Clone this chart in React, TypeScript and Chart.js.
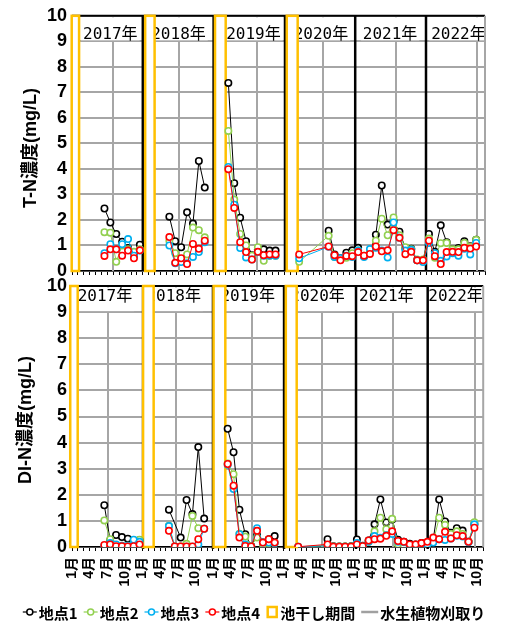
import React, { useEffect, useRef } from 'react';
import { Chart, registerables } from 'chart.js';

Chart.register(...registerables);
Chart.defaults.font.family = '"Liberation Sans", "Noto Sans CJK JP", sans-serif';
Chart.defaults.color = '#000';

// ---------- DATA ----------
// sampling months (points plotted mid-month); the "break" months carry null in every series
const sampleMonths = [
  '2017-06', '2017-07', '2017-08', '2017-09', '2017-10', '2017-11', '2017-12',
  '2018-02',
  '2018-05', '2018-06', '2018-07', '2018-08', '2018-09', '2018-10', '2018-11',
  '2019-02',
  '2019-03', '2019-04', '2019-05', '2019-06', '2019-07', '2019-08', '2019-09', '2019-10', '2019-11',
  '2020-02',
  '2020-03', '2020-08', '2020-09', '2020-10', '2020-11', '2020-12',
  '2021-01', '2021-02', '2021-03', '2021-04', '2021-05', '2021-06', '2021-07', '2021-08', '2021-09', '2021-10', '2021-11', '2021-12',
  '2022-01', '2022-02', '2022-03', '2022-04', '2022-05', '2022-06', '2022-07', '2022-08', '2022-09',
];

const _ = undefined; // not sampled (line continues)

const tnSite1 = [2.45, 1.9, 1.45, 1.15, 0.9, 0.6, 1.03, null, 2.13, 1.17, 0.93, 2.3, 1.86, 4.31, 3.27, null, 7.37, 3.44, 2.09, 1.17, 0.62, 0.85, 0.85, 0.8, 0.8, null, null, 1.58, 0.65, 0.5, 0.72, 0.81, 0.91, 0.58, 0.75, 1.42, 3.35, 1.82, 1.95, 1.54, 0.9, 0.87, 0.42, 0.42, 1.45, 0.75, 1.79, 1.13, 0.85, 0.9, 1.17, 0.97, 1.22];
const tnSite2 = [1.52, 1.5, 0.36, 1.0, 0.85, 0.75, 0.85, null, 1.19, 0.7, 0.45, 0.65, 1.7, 1.6, 1.32, null, 5.49, 2.8, 1.45, 1.0, 0.6, 0.93, 0.4, 0.6, 0.6, null, 0.36, 1.38, 0.55, 0.45, 0.52, 0.7, 0.8, 0.6, 0.8, 1.19, 2.05, 1.4, 2.1, 1.4, 0.93, 0.85, 0.45, 0.45, 1.27, 0.52, 1.09, 1.1, 0.85, 0.85, 1.1, 0.95, 1.22];
const tnSite3 = [0.7, 1.05, 0.85, 1.05, 1.25, 0.6, 0.8, null, 1.0, 0.3, 0.35, 0.3, 0.55, 0.74, 1.13, null, 4.08, 2.6, 0.9, 0.53, 0.45, 0.74, 0.6, 0.6, 0.6, null, 0.5, 0.95, 0.55, 0.5, 0.6, 0.55, 0.8, 0.55, 0.86, 0.91, 0.8, 0.53, 1.9, 1.3, 0.8, 0.83, 0.42, 0.35, 1.1, 0.7, 0.4, 0.57, 0.7, 0.6, 0.87, 0.65, 1.1];
const tnSite4 = [0.59, 0.85, 0.85, 0.6, 0.8, 0.5, 0.81, null, 1.33, 0.32, 0.5, 0.27, 1.06, 0.87, 1.19, null, 3.99, 2.47, 1.13, 0.74, 0.45, 0.75, 0.62, 0.65, 0.65, null, 0.65, 0.96, 0.62, 0.42, 0.59, 0.58, 0.74, 0.6, 0.67, 0.96, 0.77, 0.81, 1.6, 1.3, 0.66, 0.75, 0.42, 0.42, 1.19, 0.58, 0.27, 0.74, 0.75, 0.74, 0.91, 0.88, 0.96];

const dinSite1 = [1.6, 0.25, 0.46, 0.38, 0.32, 0.25, 0.26, null, 1.43, _, 0.36, 1.8, 1.26, 3.83, 1.09, null, 4.53, 3.63, 1.43, 0.49, 0.04, 0.45, 0.17, 0.3, 0.42, null, null, 0.3, 0.03, 0.02, 0.02, 0.03, 0.29, 0.05, 0.25, 0.87, 1.82, 0.94, 1.05, 0.28, 0.2, 0.12, 0.1, 0.15, 0.15, 0.3, 1.82, 0.98, 0.55, 0.72, 0.63, 0.2, 0.87];
const dinSite2 = [1.02, 0.3, 0.05, 0.05, 0.05, 0.1, 0.28, null, 0.81, 0.02, 0.02, 0.12, 1.19, 0.72, 0.7, null, 3.2, 2.79, 0.51, 0.4, 0.04, 0.36, 0.1, 0.15, 0.15, null, 0.01, 0.05, 0.02, 0.02, 0.02, 0.02, 0.1, 0.02, 0.2, 0.6, 1.12, 0.68, 1.08, 0.1, 0.05, 0.02, 0.05, 0.1, 0.1, 0.2, 1.12, 0.85, 0.5, 0.6, 0.5, 0.2, 0.95];
const dinSite3 = [0.05, 0.15, 0.1, 0.05, 0.05, 0.28, 0.2, null, 0.8, 0.02, 0.01, 0.01, 0.01, 0.1, 0.7, null, 3.15, 2.22, 0.49, 0.1, 0.02, 0.72, 0.17, 0.17, 0.15, null, 0.01, 0.05, 0.01, 0.01, 0.01, 0.01, 0.15, 0.02, 0.2, 0.42, 0.35, 0.45, 0.5, 0.2, 0.18, 0.05, 0.08, 0.12, 0.1, 0.17, 0.3, 0.27, 0.33, 0.43, 0.4, 0.18, 0.87];
const dinSite4 = [0.08, 0.1, 0.03, 0.03, 0.02, 0.03, 0.1, null, 0.62, 0.02, 0.02, 0.02, 0.02, 0.3, 0.7, null, 3.18, 2.35, 0.36, 0.04, 0.02, 0.62, 0.17, 0.3, 0.17, null, 0.01, 0.1, 0.01, 0.01, 0.01, 0.01, 0.1, 0.03, 0.25, 0.3, 0.32, 0.43, 0.6, 0.23, 0.2, 0.1, 0.1, 0.15, 0.2, 0.36, 0.3, 0.58, 0.33, 0.45, 0.42, 0.2, 0.74];

const siteNames = ['地点1', '地点2', '地点3', '地点4'];
const siteColors = ['#000000', '#92D050', '#00B0F0', '#FF0000'];

const monthTickLabels = ['1月', '4月', '7月', '10月'];
const yearLabels = ['2017年', '2018年', '2019年', '2020年', '2021年', '2022年'];

// annotation positions, in months from 2017-01-01
const topYearLabelAt = [6.5, 18.05, 30.76, 42.2, 53.9, 65.5];
const bottomYearLabelAt = [5.6, 17.3, 29.9, 41.8, 53.5, 65.3];
const topDryPeriods = [[-0.05, 1.2], [12.4, 14.0], [24.24, 26.05], [36.4, 38.25]];
const bottomDryPeriods = [[-0.3, 0.97], [12.1, 13.9], [24.1, 26.1], [36.4, 38.25]];
const topYearLines = [12, 24, 36.1, 48, 60];
const bottomYearLines = [12.1, 24, 36.1, 48.35, 60.55];
const topHarvest = [6.95, 18.2, 31.4, 42.6, 54.9, 68.6];
const bottomHarvest = [6.15, 17.7, 30.7, 42.6, 54.7, 68.6];

const legendLabels = ['地点1', '地点2', '地点3', '地点4', '池干し期間', '水生植物刈取り'];

// ---------- STYLE ----------
const GRID = '#A6A6A6';
const HARVEST = '#A6A6A6';
const YELLOW = '#FFC000';
const CJK = '"Noto Sans CJK JP"';

function monthIndex(s: string) {
  const [y, m] = s.split('-').map(Number);
  return (y - 2017) * 12 + (m - 1) + 0.5;
}

function toPoints(values: (number | null | undefined)[]) {
  const pts: { x: number; y: number | null }[] = [];
  sampleMonths.forEach((d, i) => {
    const v = values[i];
    if (v === undefined) return;
    pts.push({ x: monthIndex(d), y: v });
  });
  return pts;
}

const decorPlugin = {
  id: 'panelDecor',
  beforeDatasetsDraw(chart: any, _args: any, o: any) {
    const { ctx, chartArea: a } = chart;
    const xs = chart.scales.x;
    const ys = chart.scales.y;
    const px = (m: number) => xs.getPixelForValue(m);
    ctx.save();
    // harvest lines
    ctx.strokeStyle = HARVEST;
    ctx.lineWidth = 2;
    for (const m of o.harvest) {
      const X = Math.round(px(m));
      ctx.beginPath();
      ctx.moveTo(X, a.top);
      ctx.lineTo(X, a.bottom);
      ctx.stroke();
    }
    // year labels with white boxes
    ctx.save();
    ctx.beginPath();
    ctx.rect(a.left, a.top, a.right - a.left, a.bottom - a.top);
    ctx.clip();
    ctx.font = '16px "DejaVu Sans Mono", ' + CJK;
    ctx.textAlign = 'center';
    ctx.textBaseline = 'middle';
    const y9 = ys.getPixelForValue(9);
    o.yearAt.forEach((m: number, i: number) => {
      const w = ctx.measureText(yearLabels[i]).width;
      const cx = px(m);
      ctx.fillStyle = '#fff';
      ctx.fillRect(cx - w / 2 - 2, a.top + 1.5, w + 4, y9 - a.top - 2.5);
      ctx.fillStyle = '#000';
      ctx.fillText(yearLabels[i], cx, a.top + o.labelDy);
    });
    ctx.restore();
    // year separator lines
    ctx.strokeStyle = '#000';
    ctx.lineWidth = 2.5;
    for (const m of o.yearLines) {
      const X = px(m);
      ctx.beginPath();
      ctx.moveTo(X, a.top);
      ctx.lineTo(X, a.bottom + o.lineExt);
      ctx.stroke();
    }
    // top border
    ctx.lineWidth = 2;
    ctx.beginPath();
    ctx.moveTo(a.left, a.top);
    ctx.lineTo(a.right, a.top);
    ctx.stroke();
    // right border
    ctx.strokeStyle = GRID;
    ctx.beginPath();
    ctx.moveTo(a.right, a.top);
    ctx.lineTo(a.right, a.bottom);
    ctx.stroke();
    // drying periods
    ctx.strokeStyle = YELLOW;
    ctx.fillStyle = '#fff';
    ctx.lineWidth = 2.5;
    for (const [m0, m1] of o.dry) {
      const x0 = px(m0);
      const x1 = px(m1);
      ctx.fillRect(x0, a.top, x1 - x0, a.bottom - a.top);
      ctx.strokeRect(x0, a.top, x1 - x0, a.bottom - a.top);
    }
    ctx.restore();
  },
  afterDraw(chart: any, _args: any, o: any) {
    const { ctx } = chart;
    ctx.save();
    // axis title
    ctx.font = 'bold 18px "Liberation Sans", ' + CJK;
    ctx.fillStyle = '#000';
    ctx.textAlign = 'center';
    ctx.textBaseline = 'middle';
    ctx.translate(o.titleX, o.titleY);
    ctx.rotate(-Math.PI / 2);
    ctx.fillText(o.title, 0, 0);
    ctx.restore();
    if (!o.legend) return;
    ctx.save();
    ctx.font = 'bold 15px ' + CJK;
    ctx.textBaseline = 'middle';
    ctx.textAlign = 'left';
    const symW = [14, 14, 14, 14, 12, 17];
    const gapSym = 2;
    const gapItem = 6;
    const widths = legendLabels.map((t, i) => symW[i] + gapSym + ctx.measureText(t).width);
    const total = widths.reduce((s, w) => s + w, 0) + gapItem * (legendLabels.length - 1);
    let x = chart.width / 2 - total / 2 + 1;
    const y = o.legendY;
    legendLabels.forEach((t, i) => {
      if (i < 4) {
        ctx.strokeStyle = siteColors[i];
        ctx.lineWidth = 1.2;
        ctx.beginPath();
        ctx.moveTo(x, y);
        ctx.lineTo(x + 14, y);
        ctx.stroke();
        ctx.beginPath();
        ctx.arc(x + 7, y, 3, 0, Math.PI * 2);
        ctx.fillStyle = '#fff';
        ctx.fill();
        ctx.lineWidth = 1.5;
        ctx.stroke();
      } else if (i === 4) {
        ctx.strokeStyle = YELLOW;
        ctx.lineWidth = 2.5;
        ctx.strokeRect(x + 1.5, y - 5, 9, 10);
      } else {
        ctx.strokeStyle = '#A0A0A0';
        ctx.lineWidth = 2.5;
        ctx.beginPath();
        ctx.moveTo(x, y);
        ctx.lineTo(x + 17, y);
        ctx.stroke();
      }
      ctx.fillStyle = '#000';
      ctx.fillText(t, x + symW[i] + gapSym, y + 1);
      x += widths[i] + gapItem;
    });
    ctx.restore();
  },
};

function makeConfig(p: any) {
  return {
    type: 'line',
    data: {
      datasets: p.values.map((vals: any, k: number) => ({
        label: siteNames[k],
        data: toPoints(vals),
        borderColor: siteColors[k],
        borderWidth: 1,
        pointRadius: 3.2,
        pointHoverRadius: 3.2,
        pointBorderWidth: 1.6,
        pointBackgroundColor: '#fff',
        pointBorderColor: siteColors[k],
        spanGaps: false,
        tension: 0,
        order: p.values.length - k,
      })),
    },
    options: {
      animation: false,
      responsive: false,
      events: [],
      layout: { padding: { top: p.padTop, right: 21, left: 0, bottom: 0 } },
      plugins: {
        legend: { display: false },
        tooltip: { enabled: false },
        panelDecor: p.decor,
      },
      scales: {
        x: {
          type: 'linear',
          min: 0,
          max: 70,
          afterFit: (s: any) => { s.height = p.xAxisH; },
          afterBuildTicks: (s: any) => { s.ticks = Array.from({ length: 71 }, (_v, i) => ({ value: i })); },
          ticks: {
            display: p.showX,
            autoSkip: false,
            minRotation: 90,
            maxRotation: 90,
            padding: 6,
            color: '#000',
            font: { size: 14, weight: 'bold' },
            callback: (v: number) => (v % 3 === 0 ? monthTickLabels[(v % 12) / 3] : ''),
          },
          grid: { drawOnChartArea: false, drawTicks: true, tickLength: 4, color: '#000', lineWidth: 1 },
          border: { display: true, color: '#000', width: 1.5 },
        },
        y: {
          min: 0,
          max: 10,
          afterFit: (s: any) => { s.width = 72; },
          ticks: { stepSize: 1, padding: 5, color: '#000', font: { size: 18, weight: 'bold' } },
          grid: { color: GRID, lineWidth: 2, drawTicks: false },
          border: { display: true, color: GRID, width: 2 },
        },
      },
    },
    plugins: [decorPlugin],
  };
}

export default function App() {
  const topRef = useRef<HTMLCanvasElement | null>(null);
  const botRef = useRef<HTMLCanvasElement | null>(null);

  useEffect(() => {
    const top = new Chart(topRef.current as HTMLCanvasElement, makeConfig({
      values: [tnSite1, tnSite2, tnSite3, tnSite4],
      padTop: 12,
      xAxisH: 21,
      showX: false,
      decor: {
        harvest: topHarvest, yearAt: topYearLabelAt, yearLines: topYearLines, dry: topDryPeriods,
        labelDy: 19, lineExt: 0, title: 'T-N濃度(mg/L)', titleX: 31.5, titleY: 148, legend: false,
      },
    }) as any);
    const bottom = new Chart(botRef.current as HTMLCanvasElement, makeConfig({
      values: [dinSite1, dinSite2, dinSite3, dinSite4],
      padTop: 16,
      xAxisH: 77,
      showX: true,
      decor: {
        harvest: bottomHarvest, yearAt: bottomYearLabelAt, yearLines: bottomYearLines, dry: bottomDryPeriods,
        labelDy: 11, lineExt: 2, title: 'DI-N濃度(mg/L)', titleX: 26, titleY: 150, legend: true, legendY: 342,
      },
    }) as any);
    return () => {
      top.destroy();
      bottom.destroy();
    };
  }, []);

  return (
    <div style={{ position: 'absolute', left: 0, top: 0, width: 506, height: 624, background: '#fff' }}>
      <canvas ref={topRef} width={506} height={292} style={{ position: 'absolute', left: 0, top: 0 }} />
      <canvas ref={botRef} width={506} height={354} style={{ position: 'absolute', left: 0, top: 270 }} />
    </div>
  );
}
